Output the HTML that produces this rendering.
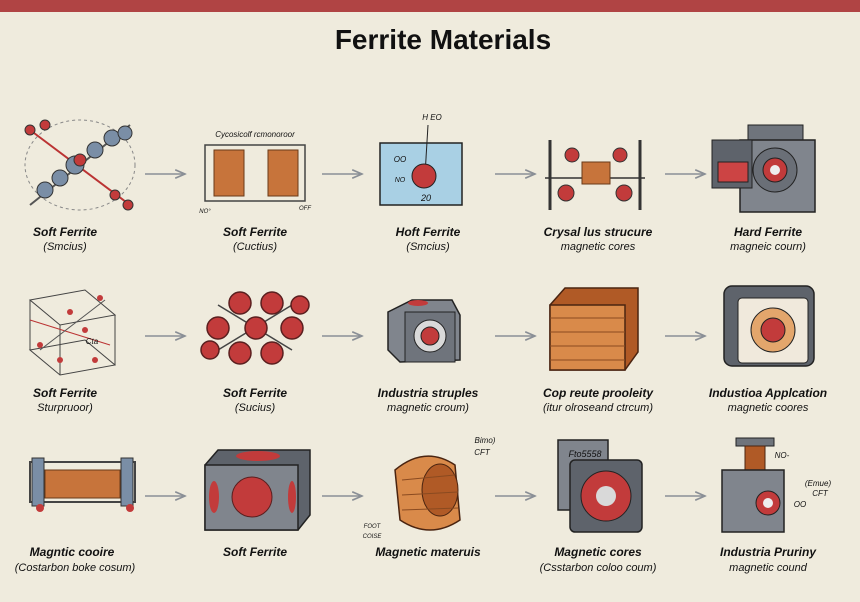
<!DOCTYPE html>
<html><head><meta charset="utf-8"><style>
html,body{margin:0;padding:0;background:#efebdd;}
svg{display:block}
text{font-family:"Liberation Sans",Arial,sans-serif;fill:#111;text-anchor:middle}
.l{font-size:12px;font-style:italic;font-weight:bold}
.s{font-size:11px;font-style:italic}
.t{font-size:6px;font-style:italic}
</style></head><body>
<svg width="860" height="602" viewBox="0 0 860 602" xmlns="http://www.w3.org/2000/svg">
<defs>
<marker id="ah" markerWidth="8" markerHeight="8" refX="7" refY="4" orient="auto"><path d="M0,1 L7,4 L0,7" fill="none" stroke="#8a8f96" stroke-width="1.2"/></marker>
</defs>
<rect x="0" y="0" width="860" height="12" fill="#b04444"/>
<text x="443" y="49" style="font-size:28px;font-weight:bold">Ferrite Materials</text>

<!-- arrows -->
<g stroke="#8a8f96" stroke-width="1.4" marker-end="url(#ah)">
<line x1="145" y1="174" x2="185" y2="174"/><line x1="322" y1="174" x2="362" y2="174"/><line x1="495" y1="174" x2="535" y2="174"/><line x1="665" y1="174" x2="705" y2="174"/>
<line x1="145" y1="336" x2="185" y2="336"/><line x1="322" y1="336" x2="362" y2="336"/><line x1="495" y1="336" x2="535" y2="336"/><line x1="665" y1="336" x2="705" y2="336"/>
<line x1="145" y1="496" x2="185" y2="496"/><line x1="322" y1="496" x2="362" y2="496"/><line x1="495" y1="496" x2="535" y2="496"/><line x1="665" y1="496" x2="705" y2="496"/>
</g>

<!-- Row1 icons -->
<g>
<ellipse cx="80" cy="165" rx="55" ry="45" fill="none" stroke="#888" stroke-dasharray="3,3"/>
<line x1="30" y1="130" x2="130" y2="205" stroke="#b33" stroke-width="2"/>
<line x1="30" y1="205" x2="130" y2="125" stroke="#555" stroke-width="2"/>
<g fill="#7a8ea6" stroke="#333"><circle cx="45" cy="190" r="8"/><circle cx="60" cy="178" r="8"/><circle cx="75" cy="165" r="9"/><circle cx="95" cy="150" r="8"/><circle cx="112" cy="138" r="8"/><circle cx="125" cy="133" r="7"/></g>
<g fill="#c23b3b" stroke="#333"><circle cx="30" cy="130" r="5"/><circle cx="45" cy="125" r="5"/><circle cx="115" cy="195" r="5"/><circle cx="128" cy="205" r="5"/><circle cx="80" cy="160" r="6"/></g>
</g>
<g>
<text x="255" y="137" class="t" style="font-size:8px">Cycosicolf rcmonoroor</text>
<rect x="205" y="145" width="100" height="56" fill="none" stroke="#444" stroke-width="1.5"/>
<rect x="214" y="150" width="30" height="46" fill="#c7743b" stroke="#6a3a18"/>
<rect x="268" y="150" width="30" height="46" fill="#c7743b" stroke="#6a3a18"/>
<text x="205" y="213" class="t">NO°</text><text x="305" y="210" class="t">OFF</text>
</g>
<g>
<text x="432" y="120" class="t" style="font-size:8px">H EO</text>
<rect x="380" y="143" width="82" height="62" fill="#a9d0e4" stroke="#222" stroke-width="1.5"/>
<line x1="428" y1="125" x2="425" y2="175" stroke="#222"/>
<circle cx="424" cy="176" r="12" fill="#c23b3b" stroke="#222"/>
<text x="400" y="162" class="t" style="font-size:8px">OO</text><text x="400" y="182" class="t" style="font-size:7px">NO</text><text x="426" y="201" class="t" style="font-size:9px">20</text>
</g>
<g>
<line x1="550" y1="140" x2="550" y2="210" stroke="#333" stroke-width="3"/><line x1="640" y1="140" x2="640" y2="210" stroke="#333" stroke-width="3"/>
<line x1="545" y1="178" x2="645" y2="178" stroke="#333" stroke-width="1.5"/>
<rect x="582" y="162" width="28" height="22" fill="#c7743b" stroke="#6a3a18"/>
<g fill="#c23b3b" stroke="#333"><circle cx="572" cy="155" r="7"/><circle cx="620" cy="155" r="7"/><circle cx="566" cy="193" r="8"/><circle cx="624" cy="193" r="8"/></g>
</g>
<g>
<rect x="748" y="125" width="55" height="20" fill="#6f747c" stroke="#222"/>
<rect x="740" y="140" width="75" height="72" fill="#80858d" stroke="#222" stroke-width="1.5"/>
<rect x="712" y="140" width="40" height="48" fill="#5e636b" stroke="#222"/>
<rect x="718" y="162" width="30" height="20" fill="#c44" stroke="#222"/>
<circle cx="775" cy="170" r="22" fill="#6a6f77" stroke="#222"/><circle cx="775" cy="170" r="12" fill="#c23b3b" stroke="#222"/><circle cx="775" cy="170" r="5" fill="#eee"/>
</g>

<!-- Row2 icons -->
<g>
<polygon points="30,300 85,290 115,315 60,325" fill="none" stroke="#444"/>
<polygon points="30,350 85,340 115,365 60,375" fill="none" stroke="#444"/>
<line x1="30" y1="300" x2="30" y2="350" stroke="#444"/><line x1="115" y1="315" x2="115" y2="365" stroke="#444"/><line x1="60" y1="325" x2="60" y2="375" stroke="#444"/>
<line x1="30" y1="320" x2="110" y2="345" stroke="#b33"/><line x1="40" y1="350" x2="105" y2="300" stroke="#555"/>
<g fill="#c23b3b"><circle cx="40" cy="345" r="3"/><circle cx="70" cy="312" r="3"/><circle cx="100" cy="298" r="3"/><circle cx="95" cy="360" r="3"/><circle cx="60" cy="360" r="3"/><circle cx="85" cy="330" r="3"/></g>
<text x="92" y="344" class="t" style="font-size:8px">Cta</text>
</g>
<g fill="#c23b3b" stroke="#5a1f1f" stroke-width="1.5">
<line x1="218" y1="305" x2="292" y2="350" stroke="#444"/><line x1="218" y1="350" x2="292" y2="305" stroke="#444"/>
<circle cx="240" cy="303" r="11"/><circle cx="272" cy="303" r="11"/><circle cx="218" cy="328" r="11"/><circle cx="292" cy="328" r="11"/><circle cx="240" cy="353" r="11"/><circle cx="272" cy="353" r="11"/><circle cx="256" cy="328" r="11"/><circle cx="210" cy="350" r="9"/><circle cx="300" cy="305" r="9"/>
</g>
<g>
<polygon points="388,312 412,300 452,300 460,315 460,360 400,362 388,350" fill="#80858d" stroke="#222" stroke-width="1.5"/>
<rect x="405" y="312" width="50" height="50" fill="#6f747c" stroke="#222"/>
<circle cx="430" cy="336" r="16" fill="#d9d9d9" stroke="#222"/><circle cx="430" cy="336" r="9" fill="#c23b3b" stroke="#222"/>
<ellipse cx="418" cy="303" rx="10" ry="3" fill="#c23b3b"/>
</g>
<g>
<polygon points="550,305 565,288 638,288 638,352 625,370 550,370" fill="#b05a26" stroke="#4a2410" stroke-width="1.5"/>
<rect x="550" y="305" width="75" height="65" fill="#d98a4a" stroke="#4a2410" stroke-width="1.5"/>
<g stroke="#8a4a20"><line x1="550" y1="318" x2="625" y2="318"/><line x1="550" y1="332" x2="625" y2="332"/><line x1="550" y1="346" x2="625" y2="346"/><line x1="550" y1="360" x2="625" y2="360"/></g>
</g>
<g>
<rect x="724" y="286" width="90" height="80" rx="8" fill="#5e636b" stroke="#222" stroke-width="1.5"/>
<rect x="738" y="298" width="70" height="65" rx="4" fill="#f0e9dc" stroke="#222"/>
<circle cx="773" cy="330" r="22" fill="#e3a66c" stroke="#222"/><circle cx="773" cy="330" r="12" fill="#c23b3b" stroke="#222"/>
</g>

<!-- Row3 icons -->
<g>
<rect x="30" y="462" width="105" height="40" fill="none" stroke="#444" stroke-width="2"/>
<rect x="45" y="470" width="75" height="28" fill="#c7743b" stroke="#6a3a18"/>
<rect x="32" y="458" width="12" height="48" fill="#7a8ea6" stroke="#333"/><rect x="121" y="458" width="12" height="48" fill="#7a8ea6" stroke="#333"/>
<circle cx="40" cy="508" r="4" fill="#c23b3b"/><circle cx="130" cy="508" r="4" fill="#c23b3b"/>
</g>
<g>
<polygon points="205,465 218,450 310,450 310,515 298,530 205,530" fill="#5e636b" stroke="#222" stroke-width="1.5"/>
<rect x="205" y="465" width="93" height="65" fill="#80858d" stroke="#222" stroke-width="1.5"/>
<ellipse cx="258" cy="456" rx="22" ry="5" fill="#c23b3b"/>
<circle cx="252" cy="497" r="20" fill="#c23b3b" stroke="#5a1f1f"/>
<ellipse cx="214" cy="497" rx="5" ry="16" fill="#c23b3b"/><ellipse cx="292" cy="497" rx="4" ry="16" fill="#c23b3b"/>
</g>
<g>
<path d="M395,470 Q425,445 455,465 L460,520 Q430,540 400,520 Z" fill="#d98a4a" stroke="#4a2410" stroke-width="1.5"/>
<ellipse cx="440" cy="490" rx="18" ry="26" fill="#b05a26" stroke="#4a2410"/>
<g stroke="#8a4a20"><line x1="402" y1="480" x2="455" y2="475"/><line x1="402" y1="495" x2="458" y2="492"/><line x1="402" y1="510" x2="458" y2="508"/></g>
<text x="485" y="443" class="t" style="font-size:8px">Bimo)</text><text x="482" y="455" class="t" style="font-size:8px">CFT</text>
<text x="372" y="528" class="t">FOOT</text><text x="372" y="538" class="t">COISE</text>
</g>
<g>
<rect x="558" y="440" width="50" height="70" fill="#80858d" stroke="#222" stroke-width="1.5"/>
<text x="585" y="457" class="t" style="font-size:9px">Fto5558</text>
<rect x="570" y="460" width="72" height="72" rx="5" fill="#5e636b" stroke="#222" stroke-width="1.5"/>
<circle cx="606" cy="496" r="25" fill="#c23b3b" stroke="#222"/><circle cx="606" cy="496" r="10" fill="#d9d9d9"/>
</g>
<g>
<rect x="736" y="438" width="38" height="8" fill="#6f747c" stroke="#222"/>
<rect x="745" y="446" width="20" height="24" fill="#b05a26" stroke="#4a2410"/>
<rect x="722" y="470" width="62" height="62" fill="#80858d" stroke="#222" stroke-width="1.5"/>
<circle cx="768" cy="503" r="12" fill="#c23b3b" stroke="#222"/><circle cx="768" cy="503" r="5" fill="#eee"/>
<text x="782" y="458" class="t" style="font-size:8px">NO-</text>
<text x="818" y="486" class="t" style="font-size:8px">(Emue)</text><text x="820" y="496" class="t" style="font-size:8px">CFT</text><text x="800" y="507" class="t" style="font-size:8px">OO</text>
</g>

<!-- Labels -->
<text x="65" y="236" class="l">Soft Ferrite</text><text x="65" y="250" class="s">(Smcius)</text>
<text x="255" y="236" class="l">Soft Ferrite</text><text x="255" y="250" class="s">(Cuctius)</text>
<text x="428" y="236" class="l">Hoft Ferrite</text><text x="428" y="250" class="s">(Smcius)</text>
<text x="598" y="236" class="l">Crysal lus strucure</text><text x="598" y="250" class="s">magnetic cores</text>
<text x="768" y="236" class="l">Hard Ferrite</text><text x="768" y="250" class="s">magneic courn)</text>

<text x="65" y="397" class="l">Soft Ferrite</text><text x="65" y="411" class="s">Sturpruoor)</text>
<text x="255" y="397" class="l">Soft Ferrite</text><text x="255" y="411" class="s">(Sucius)</text>
<text x="428" y="397" class="l">Industria struples</text><text x="428" y="411" class="s">magnetic croum)</text>
<text x="598" y="397" class="l">Cop reute prooleity</text><text x="598" y="411" class="s">(itur olroseand ctrcum)</text>
<text x="768" y="397" class="l">Industioa Applcation</text><text x="768" y="411" class="s">magnetic coores</text>

<text x="72" y="556" class="l">Magntic cooire</text><text x="75" y="571" class="s">(Costarbon boke cosum)</text>
<text x="255" y="556" class="l">Soft Ferrite</text>
<text x="428" y="556" class="l">Magnetic materuis</text>
<text x="598" y="556" class="l">Magnetic cores</text><text x="598" y="571" class="s">(Csstarbon coloo coum)</text>
<text x="768" y="556" class="l">Industria Pruriny</text><text x="768" y="571" class="s">magnetic cound</text>
</svg>
</body></html>
